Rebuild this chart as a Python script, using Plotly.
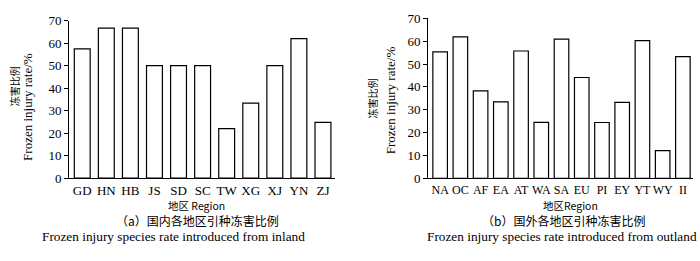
import plotly.graph_objects as go

# Data
regions_a = ["GD", "HN", "HB", "JS", "SD", "SC", "TW", "XG", "XJ", "YN", "ZJ"]
rates_a = [57.5, 66.7, 66.7, 50.0, 50.0, 50.0, 22.0, 33.3, 50.0, 62.0, 24.8]

regions_b = ["NA", "OC", "AF", "EA", "AT", "WA", "SA", "EU", "PI", "EY", "YT", "WY", "II"]
rates_b = [55.3, 61.9, 38.2, 33.4, 55.7, 24.5, 60.9, 44.1, 24.4, 33.2, 60.2, 12.1, 53.2]

y_ticks = [0, 10, 20, 30, 40, 50, 60, 70]

W, H = 700, 261
SERIF = "Liberation Serif, Times New Roman, serif"
CJK = "Noto Sans CJK SC, Noto Sans CJK JP, sans-serif"

def px(x):
    return x / W

def py(y):
    return 1 - y / H

fig = go.Figure()
fig.add_trace(go.Bar(x=regions_a, y=rates_a, xaxis="x", yaxis="y",
                     marker=dict(color="white", line=dict(color="black", width=1.2)),
                     width=0.66, showlegend=False))
fig.add_trace(go.Bar(x=regions_b, y=rates_b, xaxis="x2", yaxis="y2",
                     marker=dict(color="white", line=dict(color="black", width=1.2)),
                     width=0.72, showlegend=False))

def axis_common(size):
    return dict(showline=True, linecolor="black", linewidth=1, showgrid=False,
                zeroline=False, tickfont=dict(family=SERIF, size=size, color="black"))

fig.update_layout(
    width=W, height=H,
    margin=dict(l=0, r=0, t=0, b=0),
    paper_bgcolor="white", plot_bgcolor="white",
    bargap=0.3,
    xaxis=dict(domain=[px(69), px(335)], anchor="y", ticks="", range=[-0.55, 10.5],
               tickangle=0, **axis_common(13)),
    yaxis=dict(domain=[py(181.5), py(14.5)], anchor="x", range=[0, 70], tickvals=y_ticks,
               ticks="outside", ticklen=4, tickcolor="black", **axis_common(13)),
    xaxis2=dict(domain=[px(428), px(693)], anchor="y2", ticks="", range=[-0.6, 12.5],
                tickangle=0, **axis_common(12)),
    yaxis2=dict(domain=[py(181.7), py(12)], anchor="x2", range=[0, 70], tickvals=y_ticks,
                ticks="outside", ticklen=4, tickcolor="black", **axis_common(13)),
)

ann = []
def add(text, x, y, size, family, angle=0):
    ann.append(dict(text=text, x=px(x), y=py(y), xref="paper", yref="paper",
                    showarrow=False, textangle=angle, xanchor="center", yanchor="middle",
                    borderpad=0,
                    font=dict(family=family, size=size, color="black")))

# Left y-axis titles
add("冻害比例", 14, 84, 10, CJK, -90)
add("Frozen injury rate/%", 28, 106, 13, SERIF, -90)
# Right y-axis titles
add("冻害比例", 372, 97, 10, CJK, -90)
add("Frozen injury rate/%", 390, 99, 13, SERIF, -90)

# X titles
add("地区 Region", 196, 210.5, 10.5, CJK)
add("地区Region", 570, 210.5, 10.5, CJK)

# Captions
add("（a）国内各地区引种冻害比例", 197, 227, 12, CJK)
add("Frozen injury species rate introduced from inland", 173, 243.5, 13.3, SERIF)
add("（b）国外各地区引种冻害比例", 563, 227, 12, CJK)
add("Frozen injury species rate introduced from outland", 562, 243.5, 13.3, SERIF)

fig.update_layout(annotations=ann)

fig.write_html("out.html", config={"displayModeBar": False},
               post_script="document.body.style.margin='0';document.body.style.overflow='hidden';")
